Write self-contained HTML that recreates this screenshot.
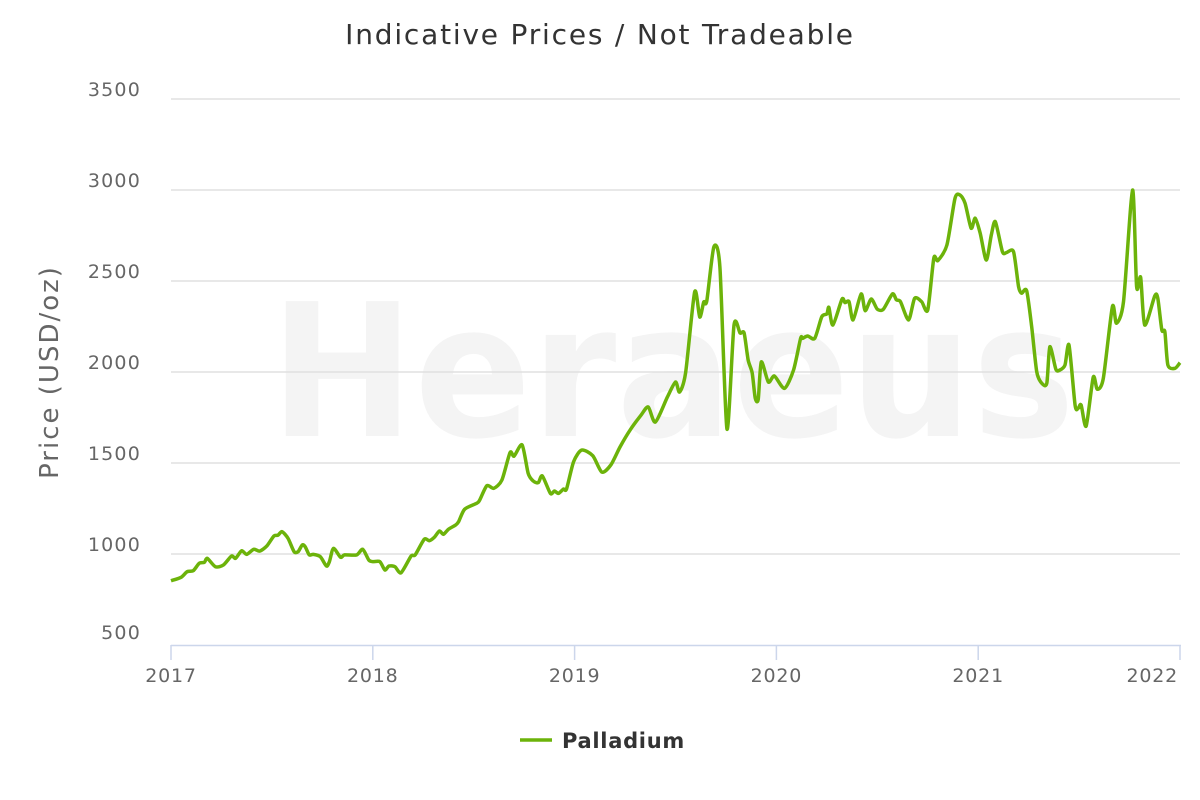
<!DOCTYPE html>
<html><head><meta charset="utf-8"><style>
body{margin:0;background:#fff;font-family:"DejaVu Sans","Liberation Sans",sans-serif;}
svg{display:block}
</style></head><body>
<svg id="c" width="1200" height="800">
<text x="600" y="44" text-anchor="middle" font-size="28" fill="#333" letter-spacing="1.8">Indicative Prices / Not Tradeable</text>
<text x="270" y="436" font-size="185" font-weight="bold" fill="#f4f4f4" textLength="805" lengthAdjust="spacingAndGlyphs">Heraeus</text>
<g id="grid"></g>
<g id="axes"></g>
<text transform="translate(58,372) rotate(-90)" text-anchor="middle" font-size="26" fill="#666" letter-spacing="2">Price (USD/oz)</text>
<path id="line" fill="none" stroke="#6cb30a" stroke-width="3.5" stroke-linejoin="round"></path>
<g>
<line x1="520" y1="740" x2="552" y2="740" stroke="#6cb30a" stroke-width="3.5"/>
<text x="562" y="748" font-size="21" font-weight="bold" fill="#333" letter-spacing="0.7">Palladium</text>
</g>
</svg>
<script>
const yTicks=[500,1000,1500,2000,2500,3000,3500];
const xTicks=[2017,2018,2019,2020,2021,2022];
const dates=[2017.00,2017.05,2017.08,2017.11,2017.14,2017.165,2017.18,2017.22,2017.26,2017.30,2017.32,2017.35,2017.375,2017.41,2017.44,2017.475,2017.51,2017.53,2017.55,2017.58,2017.61,2017.63,2017.65,2017.665,2017.685,2017.705,2017.74,2017.77,2017.785,2017.805,2017.84,2017.86,2017.92,2017.95,2017.98,2018.00,2018.035,2018.06,2018.08,2018.11,2018.14,2018.19,2018.21,2018.255,2018.28,2018.305,2018.33,2018.35,2018.375,2018.41,2018.425,2018.455,2018.515,2018.53,2018.565,2018.60,2018.64,2018.68,2018.70,2018.74,2018.77,2018.795,2018.82,2018.84,2018.88,2018.90,2018.92,2018.945,2018.96,2018.995,2019.035,2019.09,2019.135,2019.18,2019.225,2019.275,2019.33,2019.365,2019.40,2019.46,2019.50,2019.52,2019.55,2019.595,2019.62,2019.64,2019.655,2019.69,2019.72,2019.755,2019.79,2019.82,2019.84,2019.86,2019.88,2019.895,2019.91,2019.925,2019.96,2019.99,2020.04,2020.085,2020.12,2020.13,2020.155,2020.19,2020.225,2020.25,2020.26,2020.28,2020.325,2020.34,2020.36,2020.38,2020.42,2020.44,2020.47,2020.50,2020.53,2020.575,2020.595,2020.615,2020.655,2020.685,2020.72,2020.75,2020.78,2020.80,2020.845,2020.885,2020.91,2020.935,2020.965,2020.985,2021.01,2021.04,2021.065,2021.085,2021.12,2021.14,2021.175,2021.20,2021.215,2021.24,2021.265,2021.29,2021.315,2021.34,2021.355,2021.385,2021.405,2021.43,2021.45,2021.48,2021.495,2021.51,2021.535,2021.57,2021.59,2021.62,2021.665,2021.685,2021.72,2021.765,2021.785,2021.805,2021.825,2021.875,2021.89,2021.91,2021.925,2021.94,2021.975,2022.0];
const prices=[853,872,903,908,949,954,976,930,940,989,976,1018,998,1026,1016,1044,1099,1103,1123,1086,1013,1013,1049,1040,995,998,985,934,958,1031,982,995,995,1026,967,958,958,912,934,930,897,989,995,1081,1073,1092,1126,1108,1136,1159,1177,1246,1279,1297,1375,1361,1407,1557,1538,1599,1443,1401,1392,1429,1333,1346,1333,1357,1357,1507,1571,1540,1450,1490,1588,1681,1764,1808,1725,1863,1945,1890,1995,2440,2302,2385,2390,2687,2577,1687,2258,2214,2214,2066,1995,1857,1850,2055,1945,1978,1910,2011,2185,2185,2198,2185,2304,2319,2355,2258,2400,2381,2386,2286,2429,2337,2401,2345,2345,2429,2396,2386,2286,2405,2386,2341,2625,2612,2698,2954,2972,2927,2790,2845,2762,2615,2753,2826,2661,2656,2661,2469,2433,2447,2249,2002,1938,1938,2139,2015,2011,2038,2148,1819,1800,1819,1703,1971,1905,1965,2359,2268,2386,3000,2469,2520,2258,2418,2405,2231,2221,2038,2020,2051];
const ns="http://www.w3.org/2000/svg";
const X=v=>171+(v-2017)*201.8;
const Y=v=>645-(v-500)*91/500;
const grid=document.getElementById('grid'),axes=document.getElementById('axes');
yTicks.forEach(t=>{
 if(t>500){const l=document.createElementNS(ns,'line');
 
 
 l.setAttribute('x1',171);l.setAttribute('x2',1180);l.setAttribute('y1',Y(t));l.setAttribute('y2',Y(t));
 l.setAttribute('stroke','#e0e0e0');l.setAttribute('stroke-width','1.5');grid.appendChild(l);}
 const tx=document.createElementNS(ns,'text');
 
 
 tx.setAttribute('x',141);tx.setAttribute('y',t===500?Y(t)-6:Y(t)-3);tx.setAttribute('text-anchor','end');
 tx.setAttribute('font-size','19');tx.setAttribute('fill','#666');tx.setAttribute('letter-spacing','1.2');
 tx.textContent=t;axes.appendChild(tx);
});
const ax=document.createElementNS(ns,'line');


ax.setAttribute('x1',171);ax.setAttribute('x2',1181);ax.setAttribute('y1',645.5);ax.setAttribute('y2',645.5);
ax.setAttribute('stroke','#ccd6eb');ax.setAttribute('stroke-width','1.5');axes.appendChild(ax);
xTicks.forEach((t,i)=>{
 const l=document.createElementNS(ns,'line');
 
 
 l.setAttribute('x1',X(t));l.setAttribute('x2',X(t));l.setAttribute('y1',645);l.setAttribute('y2',660);
 l.setAttribute('stroke','#ccd6eb');l.setAttribute('stroke-width','1.5');axes.appendChild(l);
 const tx=document.createElementNS(ns,'text');
 
 
 const last=i===xTicks.length-1;
 tx.setAttribute('x',last?X(t)-2:X(t));tx.setAttribute('y',682);tx.setAttribute('text-anchor',last?'end':'middle');
 tx.setAttribute('font-size','19');tx.setAttribute('fill','#666');tx.setAttribute('letter-spacing','0.8');
 tx.textContent=t;axes.appendChild(tx);
});
const pts=dates.map((d,i)=>[X(d),Y(prices[i])]);
let d='M'+pts[0][0]+','+pts[0][1];
for(let i=0;i<pts.length-1;i++){
 const p0=pts[Math.max(i-1,0)],p1=pts[i],p2=pts[i+1],p3=pts[Math.min(i+2,pts.length-1)];
 const k=1/8;
 d+=' C'+(p1[0]+(p2[0]-p0[0])*k)+','+(p1[1]+(p2[1]-p0[1])*k)+' '+(p2[0]-(p3[0]-p1[0])*k)+','+(p2[1]-(p3[1]-p1[1])*k)+' '+p2[0]+','+p2[1];
}
document.getElementById('line').setAttribute('d',d);
</script>
</body></html>
